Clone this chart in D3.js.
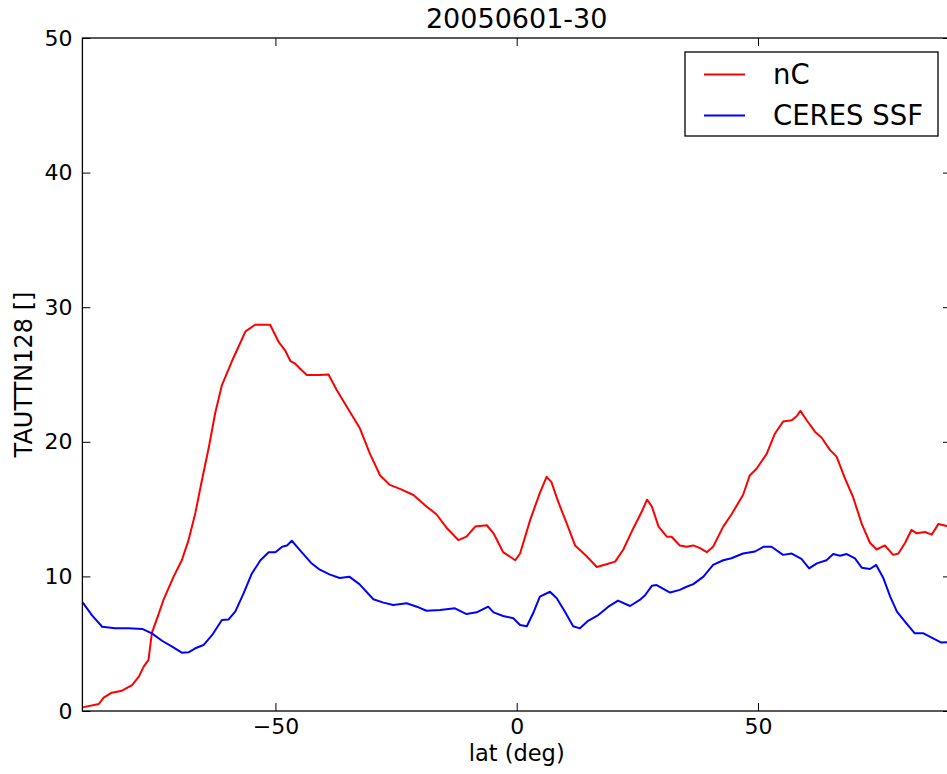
<!DOCTYPE html>
<html>
<head>
<meta charset="utf-8">
<script src="https://cdn.jsdelivr.net/npm/d3@7"></script>
<style>
  body { margin: 0; background: #fff; }
  text { font-family: "DejaVu Sans", sans-serif; fill: #000; }
</style>
</head>
<body>
<svg width="947" height="774"></svg>
<script>
// nC (red), digitized latitude / value pairs
const latNC = [-90, -86.6, -85.6, -83.9, -81.8, -79.7, -78.3, -77.3, -76.3, -75.6, -74.5, -73.2, -71.1, -69.4, -68.0, -66.6, -65.2, -63.8, -62.5, -61.1, -59.0, -57.6, -56.2, -54.2, -52.8, -51.1, -49.3, -48.0, -46.9, -45.9, -44.5, -43.5, -40.8, -39.0, -37.3, -35.2, -32.5, -30.4, -28.3, -26.3, -24.2, -21.4, -18.7, -16.6, -14.5, -12.1, -10.4, -8.6, -6.2, -4.8, -2.8, -0.3, 0.7, 2.8, 4.8, 6.2, 7.2, 8.6, 10.4, 12.1, 14.5, 16.6, 18.6, 20.4, 22.1, 24.2, 25.9, 27.0, 28.0, 29.4, 31.1, 32.1, 33.8, 35.2, 36.6, 38.0, 39.4, 40.7, 42.8, 44.5, 46.9, 48.3, 49.7, 51.8, 53.5, 55.2, 57.0, 58.0, 58.8, 60.1, 61.8, 63.2, 64.9, 66.3, 68.0, 69.7, 71.5, 73.2, 74.6, 76.3, 78.0, 79.1, 80.5, 81.8, 82.9, 84.6, 86.0, 87.4, 89.1, 90];
const tauNC = [0.27, 0.52, 1.0, 1.36, 1.51, 1.93, 2.55, 3.3, 3.8, 5.8, 6.9, 8.25, 9.98, 11.2, 12.7, 14.7, 17.2, 19.6, 22.1, 24.2, 26.0, 27.1, 28.2, 28.7, 28.7, 28.7, 27.4, 26.8, 26.0, 25.8, 25.3, 24.96, 24.96, 25.0, 23.85, 22.6, 21.0, 19.1, 17.5, 16.8, 16.5, 16.05, 15.2, 14.6, 13.6, 12.7, 12.95, 13.7, 13.8, 13.2, 11.8, 11.2, 11.7, 14.2, 16.2, 17.4, 17.0, 15.55, 13.9, 12.3, 11.5, 10.7, 10.9, 11.1, 12.0, 13.6, 14.8, 15.7, 15.2, 13.7, 12.95, 12.95, 12.3, 12.2, 12.3, 12.1, 11.8, 12.2, 13.7, 14.6, 16.05, 17.5, 18.0, 19.1, 20.6, 21.5, 21.6, 21.9, 22.3, 21.6, 20.75, 20.3, 19.4, 18.9, 17.3, 15.9, 13.9, 12.5, 12.0, 12.3, 11.6, 11.7, 12.5, 13.45, 13.2, 13.3, 13.1, 13.9, 13.75, 13.8];

// CERES SSF (blue)
const latCERES = [-90, -88, -85.9, -83.2, -80.4, -77.6, -75.6, -73.5, -71.4, -69.4, -68.0, -66.6, -64.9, -63.1, -61.1, -59.7, -58.3, -56.6, -54.9, -53.1, -51.4, -50.0, -48.6, -47.6, -46.6, -44.8, -42.6, -40.8, -38.8, -36.7, -34.7, -32.6, -29.7, -27.6, -25.6, -22.8, -20.7, -18.7, -15.9, -12.8, -10.4, -8.3, -5.9, -4.8, -2.8, -0.7, 0.7, 2.1, 3.4, 4.8, 6.9, 8.3, 10.0, 11.7, 13.1, 14.8, 16.9, 19.0, 21.0, 23.5, 25.5, 26.6, 28.0, 29.0, 31.8, 33.8, 35.2, 36.6, 38.7, 40.7, 42.8, 44.5, 46.9, 49.4, 51.1, 52.8, 55.2, 57.0, 59.0, 60.6, 62.2, 64.2, 65.6, 67.0, 68.4, 70.1, 71.5, 73.2, 74.5, 76.0, 77.4, 78.8, 80.8, 82.5, 84.3, 86.3, 88.0, 89.1, 90];
const tauCERES = [8.1, 7.1, 6.26, 6.14, 6.14, 6.1, 5.77, 5.22, 4.78, 4.33, 4.36, 4.66, 4.9, 5.65, 6.76, 6.8, 7.4, 8.74, 10.2, 11.2, 11.8, 11.8, 12.2, 12.3, 12.65, 11.9, 11.0, 10.5, 10.15, 9.88, 9.98, 9.43, 8.3, 8.05, 7.88, 8.0, 7.75, 7.45, 7.5, 7.63, 7.2, 7.33, 7.75, 7.33, 7.06, 6.89, 6.39, 6.3, 7.26, 8.5, 8.86, 8.37, 7.38, 6.3, 6.14, 6.7, 7.13, 7.75, 8.2, 7.8, 8.25, 8.6, 9.3, 9.36, 8.8, 9.0, 9.23, 9.43, 9.98, 10.85, 11.2, 11.35, 11.7, 11.85, 12.2, 12.2, 11.6, 11.7, 11.3, 10.6, 10.97, 11.2, 11.66, 11.54, 11.66, 11.34, 10.65, 10.55, 10.85, 9.86, 8.5, 7.38, 6.5, 5.77, 5.77, 5.4, 5.08, 5.1, 5.1];

const xTicks = [-50, 0, 50];
const yTicks = [0, 10, 20, 30, 40, 50];

const series = [
    { name: "nC", lat: latNC, tau: tauNC, color: "#ff0000" },
    { name: "CERES SSF", lat: latCERES, tau: tauCERES, color: "#0000ff" }
];

const svg = d3.select("svg");
const plotL = 82.4, plotR = 951, plotT = 38, plotB = 711;

const x = d3.scaleLinear().domain([-90, 90]).range([plotL, plotR]);
const y = d3.scaleLinear().domain([0, 50]).range([plotB, plotT]);

svg.append("clipPath").attr("id", "plot")
    .append("rect")
    .attr("x", plotL).attr("y", plotT)
    .attr("width", plotR - plotL).attr("height", plotB - plotT);

const line = d3.line()
    .x(d => x(d[0]))
    .y(d => y(d[1]));

// data lines
svg.append("g").attr("clip-path", "url(#plot)")
    .selectAll("path")
    .data(series)
    .enter()
    .append("path")
    .attr("d", s => line(d3.zip(s.lat, s.tau)))
    .attr("fill", "none")
    .attr("stroke", s => s.color)
    .attr("stroke-width", 2)
    .attr("stroke-linejoin", "round");

// axes, matplotlib style: ticks inside on all four sides
const tickLen = 8;
svg.append("g").attr("transform", `translate(0,${plotB})`)
    .call(d3.axisBottom(x).tickValues(xTicks).tickSizeInner(-tickLen).tickSizeOuter(0)
        .tickPadding(7).tickFormat(d => d < 0 ? "\u2212" + Math.abs(d) : d));
svg.append("g").attr("transform", `translate(0,${plotT})`)
    .call(d3.axisTop(x).tickValues(xTicks).tickSizeInner(-tickLen).tickSizeOuter(0).tickFormat(""));
svg.append("g").attr("transform", `translate(${plotL},0)`)
    .call(d3.axisLeft(y).tickValues(yTicks).tickSizeInner(-tickLen).tickSizeOuter(0).tickPadding(10));
svg.append("g").attr("transform", `translate(${plotR},0)`)
    .call(d3.axisRight(y).tickValues(yTicks).tickSizeInner(-tickLen).tickSizeOuter(0).tickFormat(""));

svg.selectAll(".domain").remove();
svg.selectAll(".tick line").attr("stroke", "#000").attr("stroke-width", 1);
svg.selectAll(".tick text").style("font-size", "22px").attr("fill", "#000");

// frame
svg.append("rect")
    .attr("x", plotL).attr("y", plotT)
    .attr("width", plotR - plotL).attr("height", plotB - plotT)
    .attr("fill", "none").attr("stroke", "#000").attr("stroke-width", 1.3);

// titles
svg.append("text")
    .attr("x", (plotL + plotR) / 2).attr("y", 28)
    .attr("text-anchor", "middle")
    .style("font-size", "27px")
    .text("20050601-30");

svg.append("text")
    .attr("x", (plotL + plotR) / 2).attr("y", 761)
    .attr("text-anchor", "middle")
    .style("font-size", "22.5px")
    .text("lat (deg)");

svg.append("text")
    .attr("transform", `translate(32,${(plotT + plotB) / 2}) rotate(-90)`)
    .attr("text-anchor", "middle")
    .style("font-size", "24px")
    .text("TAUTTN128 []");

// legend
const legend = svg.append("g");
legend.append("rect")
    .attr("x", 685).attr("y", 52)
    .attr("width", 253).attr("height", 84)
    .attr("fill", "#fff").attr("stroke", "#000").attr("stroke-width", 1.3);

const item = legend.selectAll(".item")
    .data(series)
    .enter()
    .append("g")
    .attr("class", "item")
    .attr("transform", (d, i) => `translate(0,${74.5 + i * 41})`);

item.append("line")
    .attr("x1", 704).attr("x2", 745)
    .attr("stroke", d => d.color)
    .attr("stroke-width", 2);

item.append("text")
    .attr("x", 773).attr("dy", "0.35em")
    .style("font-size", "27.5px")
    .text(d => d.name);
</script>
</body>
</html>
